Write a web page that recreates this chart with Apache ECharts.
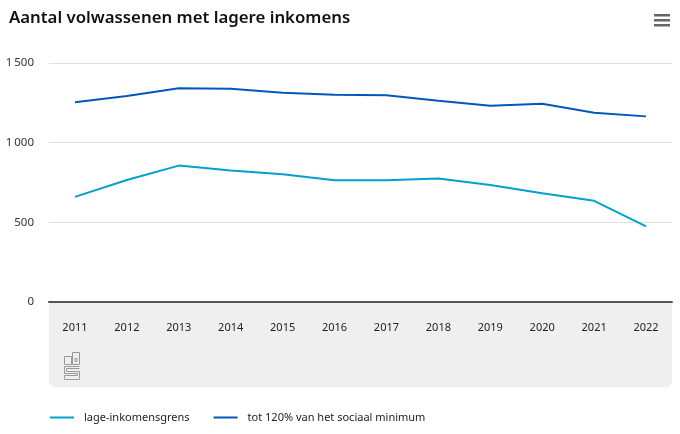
<!DOCTYPE html>
<html><head><meta charset="utf-8">
<script src="https://cdn.jsdelivr.net/npm/echarts@6/dist/echarts.min.js"></script>
<style>html,body{margin:0;padding:0;background:#fff}#c{width:680px;height:434px}</style>
</head><body><div id="c"></div>
<script>
const years = ['2011','2012','2013','2014','2015','2016','2017','2018','2019','2020','2021','2022'];
const lageInkomensgrens = [660, 766, 856, 825, 802, 764, 764, 775, 735, 683, 635, 474];
const tot120 = [1253, 1293, 1341, 1339, 1313, 1301, 1297, 1263, 1232, 1244, 1188, 1165];
const seriesNames = ['lage-inkomensgrens', 'tot 120% van het sociaal minimum'];
const yTicks = [0, 500, 1000, 1500];

const chart = echarts.init(document.getElementById('c'));
const font = '"Noto Sans", sans-serif';
chart.setOption({
  animation: false,
  textStyle: { fontFamily: font },
  title: {
    text: 'Aantal volwassenen met lagere inkomens',
    left: 4, top: 5,
    textStyle: { fontSize: 16.8, fontWeight: 600, color: '#111', fontFamily: font }
  },
  grid: { left: 49, right: 8, top: 63, bottom: 132, containLabel: false },
  legend: {
    left: 45, top: 407,
    itemWidth: 24, itemHeight: 2, icon: 'rect', itemGap: 24,
    textStyle: { fontSize: 11, color: '#222', fontFamily: font, padding: [0, 0, 0, 5] },
    data: seriesNames
  },
  graphic: [
    { type: 'rect', z: 0, shape: { x: 49, y: 302, width: 623, height: 85, r: [0, 0, 6, 6] }, style: { fill: '#efefef' } },
    { type: 'group', left: 62, top: 350, children: [
      { type: 'rect', shape: { x: 0, y: 0, width: 7, height: 8 }, style: { fill: 'none', stroke: '#999', lineWidth: 1 } },
      { type: 'rect', shape: { x: 8, y: -4, width: 7, height: 12 }, style: { fill: 'none', stroke: '#999', lineWidth: 1 } },
      { type: 'rect', shape: { x: 10.5, y: 2, width: 2, height: 3 }, style: { fill: 'none', stroke: '#999', lineWidth: 1 } },
      { type: 'polyline', shape: { points: [[15,10],[0,10],[0,17],[13,17],[13,19],[0,19],[0,23],[15,23],[15,15],[2,15],[2,12],[15,12]] }, style: { fill: 'none', stroke: '#999', lineWidth: 1 } }
    ]},
    { type: 'group', left: 654, top: 14, children: [
      { type: 'rect', shape: { x: 0, y: 0, width: 16, height: 2.5 }, style: { fill: '#666' } },
      { type: 'rect', shape: { x: 0, y: 5, width: 16, height: 2.5 }, style: { fill: '#666' } },
      { type: 'rect', shape: { x: 0, y: 10, width: 16, height: 2.5 }, style: { fill: '#666' } }
    ]}
  ],
  xAxis: {
    type: 'category', data: years, boundaryGap: true,
    axisLine: { lineStyle: { color: '#555', width: 2 } },
    axisTick: { alignWithLabel: true, length: 8, lineStyle: { color: '#ccc' } },
    axisLabel: { margin: 20, fontSize: 11, color: '#222', fontFamily: font }
  },
  yAxis: {
    type: 'value', min: yTicks[0], max: yTicks[yTicks.length - 1], interval: 500,
    axisLine: { show: false }, axisTick: { show: false },
    splitLine: { lineStyle: { color: '#e0e0e0', width: 1 } },
    axisLabel: { margin: 15, fontSize: 11.5, color: '#333', fontFamily: font,
      formatter: v => String(v).replace(/\B(?=(\d{3})+(?!\d))/g, '\u2009') }
  },
  series: [
    { name: seriesNames[0], type: 'line', data: lageInkomensgrens, showSymbol: false, symbol: 'none',
      itemStyle: { color: '#00a1cd' }, lineStyle: { color: '#00a1cd', width: 2 } },
    { name: seriesNames[1], type: 'line', data: tot120, showSymbol: false, symbol: 'none',
      itemStyle: { color: '#0058b8' }, lineStyle: { color: '#0058b8', width: 2 } }
  ]
});
</script></body></html>
